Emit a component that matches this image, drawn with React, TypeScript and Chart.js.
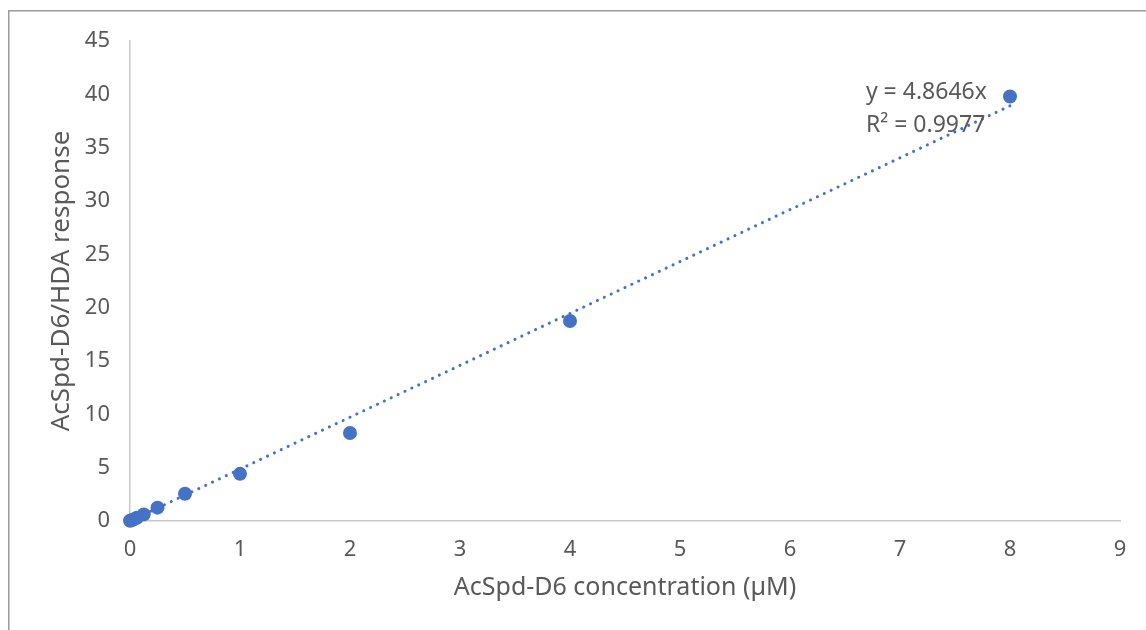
import React, { useEffect, useRef } from "react";
import { Chart, registerables } from "chart.js";

Chart.register(...registerables);

const concentrations = [0, 0.015625, 0.03125, 0.0625, 0.125, 0.25, 0.5, 1, 2, 4, 8];
const responses = [0.02, 0.08, 0.15, 0.3, 0.62, 1.25, 2.55, 4.42, 8.25, 18.75, 39.8];
const slope = 4.8646;
const rSquared = 0.9977;
const trendX = [0, 8];
const xTitle = "AcSpd-D6 concentration (\u00b5M)";
const yTitle = "AcSpd-D6/HDA response";

const FONT = "'Noto Sans', sans-serif";
const TEXT = "#595959";
const BLUE = "#4472C4";

export default function App() {
  const ref = useRef<HTMLCanvasElement | null>(null);
  useEffect(() => {
    if (!ref.current) return;
    const borderPlugin = {
      id: "frame",
      beforeDraw(chart: any) {
        const ctx = chart.ctx;
        ctx.save();
        ctx.fillStyle = "#ffffff";
        ctx.fillRect(0, 0, chart.width, chart.height);
        ctx.strokeStyle = "#9a9a9a";
        ctx.lineWidth = 1.5;
        ctx.beginPath();
        ctx.moveTo(8.75, chart.height);
        ctx.lineTo(8.75, 10.75);
        ctx.lineTo(chart.width, 10.75);
        ctx.stroke();
        ctx.restore();
      },
      afterDatasetsDraw(chart: any) {
        const ctx = chart.ctx;
        const xs = chart.scales.x;
        const ys = chart.scales.y;
        ctx.save();
        ctx.fillStyle = TEXT;
        ctx.font = `23px ${FONT}`;
        ctx.textAlign = "left";
        ctx.textBaseline = "middle";
        const px = xs.getPixelForValue(6.69);
        const py = ys.getPixelForValue(40.2);
        ctx.fillText(`y = ${slope}x`, px, py);
        ctx.fillText(`R\u00b2 = ${rSquared}`, px, py + 33);
        ctx.restore();
      },
    };
    const chart = new Chart(ref.current, {
      type: "scatter",
      data: {
        datasets: [
          {
            label: "trend",
            type: "line",
            data: trendX.map((x) => ({ x, y: slope * x })),
            borderColor: BLUE,
            borderWidth: 3,
            borderDash: [0.1, 7.5],
            borderCapStyle: "round",
            pointRadius: 0,
            fill: false,
            clip: false,
            order: 2,
          } as any,
          {
            label: "data",
            data: concentrations.map((x, i) => ({ x, y: responses[i] })),
            backgroundColor: BLUE,
            borderColor: BLUE,
            pointRadius: 7,
            pointBorderWidth: 0,
            clip: false,
            order: 1,
          } as any,
        ],
      },
      options: {
        animation: false,
        responsive: false,
        layout: { padding: { left: 0, right: 26, top: 41, bottom: 0 } },
        plugins: { legend: { display: false }, tooltip: { enabled: false } },
        scales: {
          x: {
            type: "linear",
            min: 0,
            max: 9,
            ticks: { stepSize: 1, color: TEXT, font: { family: FONT, size: 22 }, padding: 16 },
            grid: { display: false, drawTicks: false },
            border: { display: true, color: "#c8c8c8", width: 1.5 },
            title: {
              display: true,
              text: xTitle,
              color: TEXT,
              font: { family: FONT, size: 25 },
              padding: { top: 0, bottom: 27 },
            },
            afterFit(scale: any) {
              scale.height = 109;
            },
          },
          y: {
            type: "linear",
            min: 0,
            max: 45,
            ticks: { stepSize: 5, color: TEXT, font: { family: FONT, size: 22 }, padding: 20 },
            grid: { display: false, drawTicks: false },
            border: { display: true, color: "#c8c8c8", width: 1.5 },
            title: {
              display: true,
              text: yTitle,
              color: TEXT,
              font: { family: FONT, size: 26 },
              padding: { top: 46, bottom: 0 },
            },
            afterFit(scale: any) {
              scale.width = 130;
            },
          },
        },
      },
      plugins: [borderPlugin],
    });
    return () => chart.destroy();
  }, []);
  return (
    <div style={{ position: "fixed", left: 0, top: 0, width: 1146, height: 630, overflow: "hidden" }}>
      <canvas ref={ref} width={1146} height={630} style={{ display: "block" }} />
    </div>
  );
}
